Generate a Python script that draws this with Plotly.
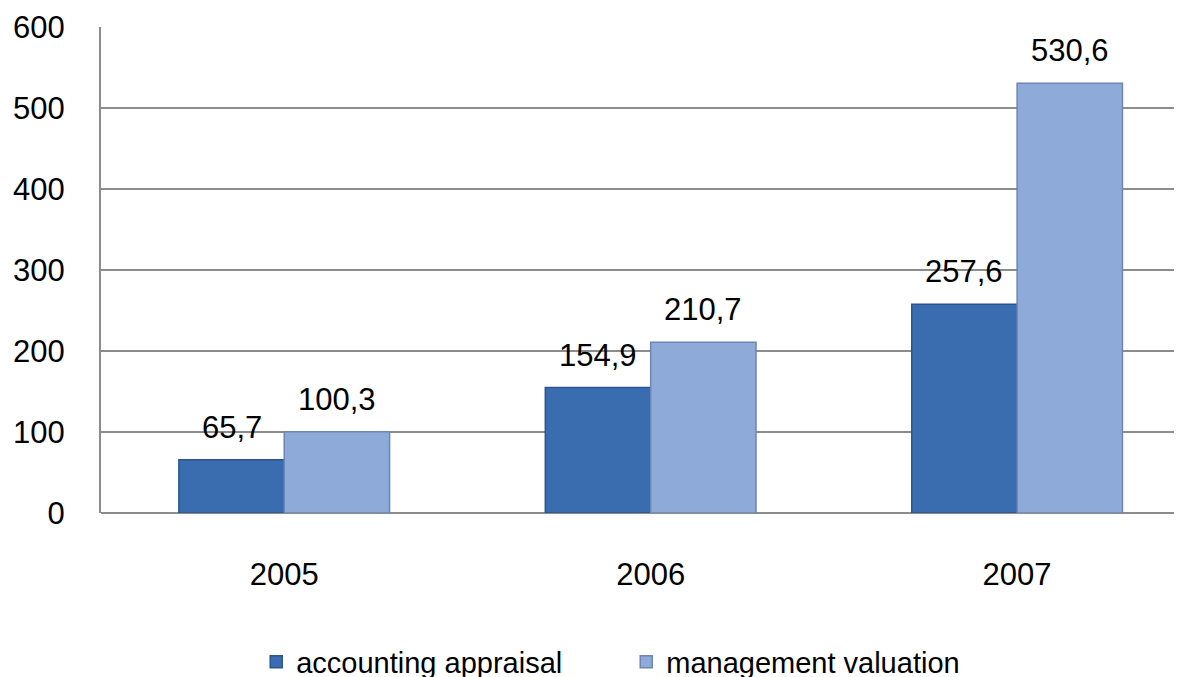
import plotly.graph_objects as go

years = ["2005", "2006", "2007"]
accounting = [65.7, 154.9, 257.6]
management = [100.3, 210.7, 530.6]
series_names = ["accounting appraisal", "management valuation"]

W, H = 1182, 677
ML, MR = 93, 8
BARGAP = 0.425
X_RANGE = [-0.5, 2.45]


def fmt(v):
    return f"{v:.1f}".replace(".", ",")


fig = go.Figure()
fig.add_trace(go.Bar(
    x=years, y=accounting, name=series_names[0],
    marker=dict(color="#3a6db0", line=dict(color="#2c5590", width=1.5)),
))
fig.add_trace(go.Bar(
    x=years, y=management, name=series_names[1],
    marker=dict(color="#8eaad9", line=dict(color="#6d86b4", width=1.5)),
))

# value labels sit well above the bars, so use annotations with a lift
# (numeric-looking category names get read as numbers, so use the category index)
px_per_cat = (W - ML - MR) / (X_RANGE[1] - X_RANGE[0])
half_bar = px_per_cat * (1 - BARGAP) / 4
for values, side in ((accounting, -1), (management, 1)):
    for i, v in enumerate(values):
        fig.add_annotation(x=i, y=v, text=fmt(v), showarrow=False,
                           xshift=side * half_bar, yshift=13, yanchor="bottom",
                           font=dict(size=31, color="black"))

fig.update_layout(
    width=W, height=H,
    margin=dict(l=ML, r=MR, t=19, b=172, autoexpand=False),
    paper_bgcolor="white", plot_bgcolor="white",
    font=dict(family="Liberation Sans, Arial, sans-serif", size=31, color="black"),
    barmode="group", bargap=BARGAP, bargroupgap=0,
    showlegend=True,
    legend=dict(orientation="h", xref="container", x=0.21, xanchor="left",
                yref="container", y=0.034, yanchor="middle",
                font=dict(size=29), entrywidth=325, entrywidthmode="pixels",
                traceorder="normal"),
)
fig.update_xaxes(type="category", range=X_RANGE, showline=False,
                 ticks="", ticklabelstandoff=40, automargin=False,
                 tickfont=dict(size=31))
fig.update_yaxes(range=[0, 600], dtick=100, showgrid=True, gridcolor="#8c8c8c",
                 gridwidth=2, zeroline=True, zerolinecolor="#8c8c8c", zerolinewidth=2,
                 showline=True, linecolor="#8c8c8c", linewidth=2, mirror=False,
                 ticks="", ticklabelstandoff=28, automargin=False,
                 tickfont=dict(size=31))

fig.write_html("out.html")
